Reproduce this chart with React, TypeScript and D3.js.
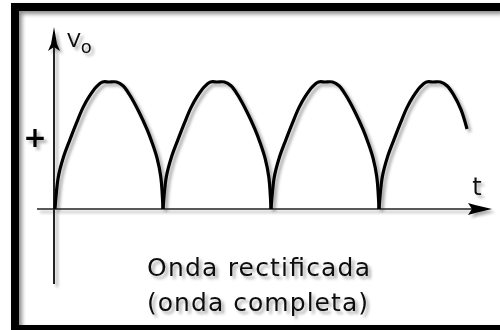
import React from "react";
import * as d3 from "d3";

// Full-wave rectified output: time in ms (10 ms per half cycle), normalised voltage
const timeMs = [
  0, 0.3, 0.75, 1.4, 2.0, 2.6, 3.2, 3.8, 4.4, 5.0, 5.7, 6.3, 6.9, 7.8, 8.5, 9.0, 9.45, 9.8,
  10, 10.3, 10.75, 11.4, 12.0, 12.6, 13.2, 13.8, 14.4, 15.0, 15.7, 16.3, 16.9, 17.8, 18.5, 19.0, 19.45, 19.8,
  20, 20.3, 20.75, 21.4, 22.0, 22.6, 23.2, 23.8, 24.4, 25.0, 25.7, 26.3, 26.9, 27.8, 28.5, 29.0, 29.45, 29.8,
  30, 30.3, 30.75, 31.4, 32.0, 32.6, 33.2, 33.8, 34.4, 35.0, 35.7, 36.3, 36.9, 37.6, 38.15,
];
const voltage = [
  0, 0.25, 0.4, 0.55, 0.68, 0.8, 0.89, 0.96, 1, 1, 1, 0.97, 0.9, 0.76, 0.63, 0.52, 0.4, 0.25,
  0, 0.25, 0.4, 0.55, 0.68, 0.8, 0.89, 0.96, 1, 1, 1, 0.97, 0.9, 0.76, 0.63, 0.52, 0.4, 0.25,
  0, 0.25, 0.4, 0.55, 0.68, 0.8, 0.89, 0.96, 1, 1, 1, 0.97, 0.9, 0.76, 0.63, 0.52, 0.4, 0.25,
  0, 0.25, 0.4, 0.55, 0.68, 0.8, 0.89, 0.96, 1, 1, 1, 0.97, 0.9, 0.78, 0.63,
];

const yAxisLabel = "V";
const yAxisSub = "o";
const xAxisLabel = "t";
const polarityLabel = "+";
const captionLines = ["Onda rectificada", "(onda completa)"];

const W = 500;
const H = 330;

// split the trace into half-cycle arches at each zero (the cusp is shared)
function splitArches(ts: number[], vs: number[]): [number, number][][] {
  const arches: [number, number][][] = [];
  let current: [number, number][] = [];
  ts.forEach((t, i) => {
    const p: [number, number] = [t, vs[i]];
    if (vs[i] === 0 && current.length > 1) {
      current.push(p);
      arches.push(current);
      current = [p];
    } else {
      current.push(p);
    }
  });
  if (current.length > 1) arches.push(current);
  return arches;
}

export default function App() {
  const x = d3.scaleLinear().domain([0, 40]).range([55, 487]);
  const y = d3.scaleLinear().domain([0, 1]).range([209, 82]);

  const arches = splitArches(timeMs, voltage);
  const line = d3
    .line<[number, number]>()
    .x((d) => x(d[0]))
    .y((d) => y(d[1]))
    .curve(d3.curveCatmullRom.alpha(0.5));

  const axisX = x(0) - 1; // vertical axis position
  const axisY = y(0); // horizontal axis position

  const font = "'DejaVu Sans', Verdana, Tahoma, sans-serif";

  return (
    <svg
      width={W}
      height={H}
      viewBox={`0 0 ${W} ${H}`}
      style={{ position: "absolute", left: 0, top: 0, display: "block", background: "#fff" }}
    >
      <defs>
        <filter id="shade" x="-20%" y="-20%" width="140%" height="140%">
          <feDropShadow dx="3" dy="3" stdDeviation="1.6" floodColor="#000" floodOpacity="0.32" />
        </filter>
        <filter id="frameShade" x="-5%" y="-5%" width="110%" height="110%">
          <feDropShadow dx="3" dy="3" stdDeviation="2" floodColor="#000" floodOpacity="0.45" />
        </filter>
      </defs>

      {/* frame */}
      <g filter="url(#frameShade)" fill="#000">
        <rect x={11} y={3} width={W - 11} height={8} />
        <rect x={11} y={3} width={8} height={H - 3} />
        <rect x={11} y={325} width={W - 11} height={8} />
      </g>

      <g filter="url(#shade)">
        {/* horizontal axis with arrow */}
        <line x1={37} x2={486} y1={axisY} y2={axisY} stroke="#222" strokeWidth={1.6} />
        <path
          d={`M ${492} ${axisY} L ${475} ${axisY - 4} L ${468} ${axisY - 6} L ${472} ${axisY} L ${468} ${axisY + 6} L ${475} ${axisY + 4} Z`}
          fill="#000"
        />
        {/* vertical axis with arrow */}
        <line x1={axisX} x2={axisX} y1={40} y2={284} stroke="#222" strokeWidth={2} />
        <path
          d={`M ${axisX} 27 L ${axisX + 3} 44 L ${axisX + 6} 51 L ${axisX} 47 L ${axisX - 6} 51 L ${axisX - 3} 44 Z`}
          fill="#000"
        />

        {/* rectified wave */}
        {arches.map((arch, i) => (
          <path key={i} d={line(arch) ?? ""} fill="none" stroke="#000" strokeWidth={3.2} strokeLinecap="butt" />
        ))}

        <text x={67} y={47} fontFamily={font} fontSize={20} fill="#111">
          {yAxisLabel}
          <tspan dy={6} fontSize={18}>{yAxisSub}</tspan>
        </text>
        <text x={477} y={195} fontFamily={font} fontSize={24} textAnchor="middle" fill="#111">
          {xAxisLabel}
        </text>
        <text x={35} y={147} fontFamily={font} fontSize={28} fontWeight="bold" textAnchor="middle" fill="#000">
          {polarityLabel}
        </text>

        <text
          x={147}
          y={276}
          fontFamily={font}
          fontSize={25}
          fill="#111"
          textLength={223}
          lengthAdjust="spacing"
        >
          {captionLines[0]}
        </text>
        <text
          x={147}
          y={311}
          fontFamily={font}
          fontSize={25}
          fill="#111"
          textLength={221}
          lengthAdjust="spacing"
        >
          {captionLines[1]}
        </text>
      </g>
    </svg>
  );
}
